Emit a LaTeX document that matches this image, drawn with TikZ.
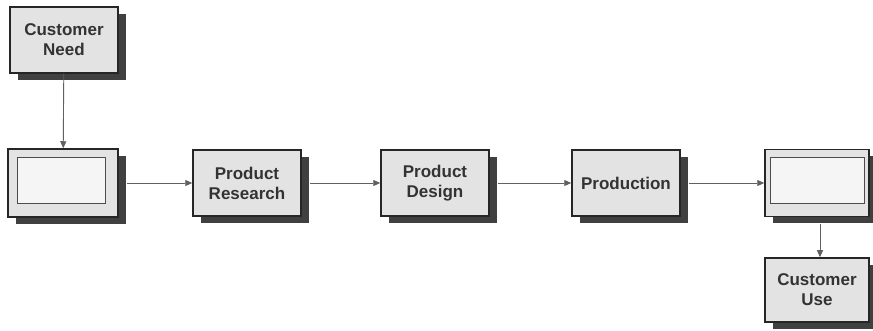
\documentclass[tikz,border=0pt]{standalone}
\usepackage{fontspec}
\setmainfont{Liberation Sans}
\usetikzlibrary{positioning,arrows.meta,shadows}

\tikzset{
  stage/.style={draw=black!85, line width=1.5pt, fill=gray!22,
    minimum width=108pt, minimum height=66pt, align=center,
    font=\bfseries\fontsize{17}{20}\selectfont, text=black!80,
    drop shadow={shadow xshift=8pt, shadow yshift=-7pt, fill=black!75, opacity=1}},
  slot/.style={draw=black!70, line width=1pt, fill=gray!8,
    minimum width=88pt, minimum height=46pt},
  flow/.style={draw=gray!75!black, line width=0.9pt,
    -{Triangle[length=7pt,width=6pt]}}
}

\begin{document}
\begin{tikzpicture}[x=1pt,y=-1pt]
\useasboundingbox (0,0) rectangle (873,331);

\node[stage] (need) at (64,40) {Customer\\Need};
\node[stage, minimum width=110pt, minimum height=68pt] (input) at (63,183) {};
\node[slot] (inslot) at (61,181) {};
\node[stage] (research) at (247,183) {Product\\Research};
\node[stage] (design) at (435,183) {Product\\Design};
\node[stage] (production) at (626,183) {Production};
\node[stage, minimum width=104pt, minimum height=67pt] (output) at (817,183) {};
\node[slot, minimum width=94pt] (outslot) at (817,181) {};
\node[stage, minimum width=104pt, minimum height=64pt] (use) at (817,290) {Customer\\Use};

% arrows along the chain
\draw[flow] (need) -- (input);
\draw[flow] (input.east) ++(8,0) -- (research.west);
\draw[flow] (research.east) ++(8,0) -- (design.west);
\draw[flow] (design.east) ++(8,0) -- (production.west);
\draw[flow] (production.east) ++(8,0) -- (output.west);
\draw[flow] (output.south) ++(3,7) -- (use.north -| 820,0);
\end{tikzpicture}
\end{document}
